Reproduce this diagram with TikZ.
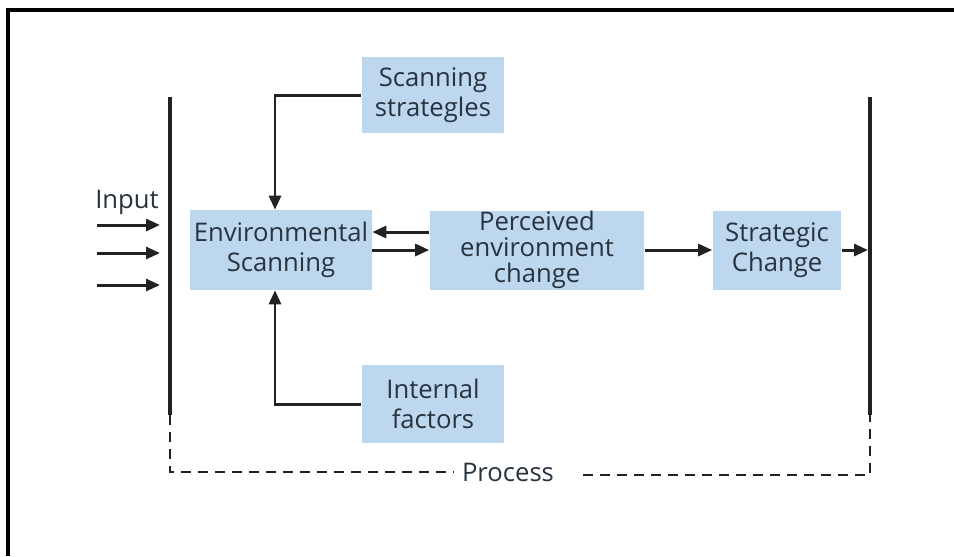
\documentclass[tikz,border=0pt]{standalone}
\usepackage{fontspec}
\setmainfont{Open Sans}
\usepackage{tikz}
\usetikzlibrary{positioning,arrows.meta}
\definecolor{boxblue}{HTML}{BDD7EE}
\definecolor{textgray}{HTML}{27333F}
\definecolor{linegray}{HTML}{222222}
\tikzstyle{block}=[fill=boxblue,text=textgray,align=center,inner sep=0pt,font=\fontsize{14.6}{17}\selectfont]
\tikzstyle{label}=[text=textgray,inner sep=2pt,font=\fontsize{14.6}{16}\selectfont]
\tikzstyle{arr}=[line width=1.7pt,draw=linegray,-{Triangle[length=0.28cm,width=0.24cm]}]
\tikzstyle{bar}=[line width=1.75pt,draw=linegray]
\tikzstyle{procline}=[line width=1.5pt,draw=linegray,dash pattern=on 0.2cm off 0.14cm]

\begin{document}
\begin{tikzpicture}[x=0.02cm,y=-0.02cm]
		\useasboundingbox (0,0) rectangle (954,556);
		% frame
		\draw[line width=1.9pt] (8,556) -- (8,10) -- (954,10);

		% boundaries
		\coordinate (lefttop) at (170,97);
		\coordinate (leftbot) at (170,415);
		\coordinate (righttop) at (870,97);
		\coordinate (rightbot) at (870,415);
		\draw[bar] (lefttop) -- (leftbot);
		\draw[bar] (righttop) -- (rightbot);

		% nodes
		\node[block,minimum width=3.64cm,minimum height=1.6cm] (env) at (281,250)
			{Environmental\\Scanning};
		\node[block,minimum width=2.86cm,minimum height=1.52cm] (scan) at (433,95)
			{Scanning\\strategles};
		\node[block,minimum width=2.86cm,minimum height=1.56cm] (intf) at (433,404)
			{Internal\\factors};
		\node[block,minimum width=4.3cm,minimum height=1.58cm,
			font=\fontsize{14.6}{14.8}\selectfont] (perc) at (537,250)
			{Perceived\\environment\\change};
		\node[block,minimum width=2.58cm,minimum height=1.58cm] (strat) at (777,250)
			{Strategic\\Change};
		\node[label] (input) at (127,202) {Input};
		\node[label] (proc) at (508,472) {Process};

		% input arrows
		\foreach \y/\n in {225/1,253/2,285/3} {
			\coordinate (in\n) at (97,\y);
			\draw[arr,shorten >=0.2cm] (in\n) -- (in\n -| lefttop);
		}

		% scanning loop
		\draw[arr] (scan.west) -| ([xshift=-0.12cm]env.north);
		\draw[arr] (intf.west) -| ([xshift=-0.12cm]env.south);
		\draw[arr] ([yshift=0.36cm]perc.west) -- ([yshift=0.36cm]env.east);
		\draw[arr] (env.east) -- (perc.west);

		% change
		\draw[arr] (perc.east) -- (strat.west);
		\draw[arr,shorten >=0.04cm] (strat.east) -- (strat.east -| righttop);

		% process
		\draw[procline] (leftbot) |- ([xshift=-0.1cm]proc.west);
		\draw[procline] ([xshift=0.5cm]proc.east |- 0,475) -| (rightbot);
	\end{tikzpicture}
\end{document}
